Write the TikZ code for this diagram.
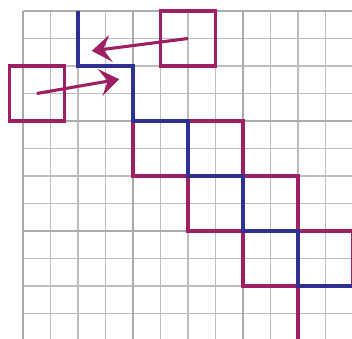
\documentclass[tikz,border=0pt]{standalone}
\usepackage{xcolor}
\usepackage{tikz}
\usetikzlibrary{arrows.meta}
\definecolor{plum}{HTML}{9E1F63}
\definecolor{navy}{HTML}{2E3192}
\definecolor{gridgrey}{HTML}{BEBEC0}
\definecolor{blockgrey}{HTML}{ABABAD}

\begin{document}
\begin{tikzpicture}[x=1cm, y=-1cm,
  fine/.style={draw=gridgrey, line width=1.8pt},
  coarse/.style={draw=blockgrey, line width=3pt},
  tile/.style={draw=plum, line width=3.2pt},
  stair/.style={draw=navy, line width=3.2pt},
  window/.style={rectangle, draw=plum, line width=3.2pt, minimum size=2cm, inner sep=0pt},
  pointer/.style={draw=plum, line width=3.2pt, -{Stealth[length=20pt, width=28pt, inset=8pt]}}]
\useasboundingbox (-0.836,-0.40) rectangle (11.964,11.90);
\clip (-0.836,-0.40) rectangle (11.964,11.90);

% grid
\draw[fine] (0,0) grid (13,13);
\foreach \k in {0,4,8} {
  \draw[coarse] (\k,0) -- (\k,13);
  \draw[coarse] (0,\k) -- (13,\k);
}

% blocks along the diagonal
\foreach \k in {4,6,8,10}
  \draw[tile] (\k,\k) rectangle ++(4,2);

% staircase
\draw[stair] (2,0) |- (4,2) |- (6,4) |- (8,6) |- (10,8) |- (13,10);

% moving windows
\node (topwin) [window] at (6,1) {};
\node (leftwin) [window] at (0.5,3) {};
\coordinate (tipa) at (2.5,1.45);
\coordinate (tipb) at (3.5,2.48);

\draw[pointer] (topwin.center) -- (tipa);
\draw[pointer] (leftwin.center) -- (tipb);
\end{tikzpicture}
\end{document}
